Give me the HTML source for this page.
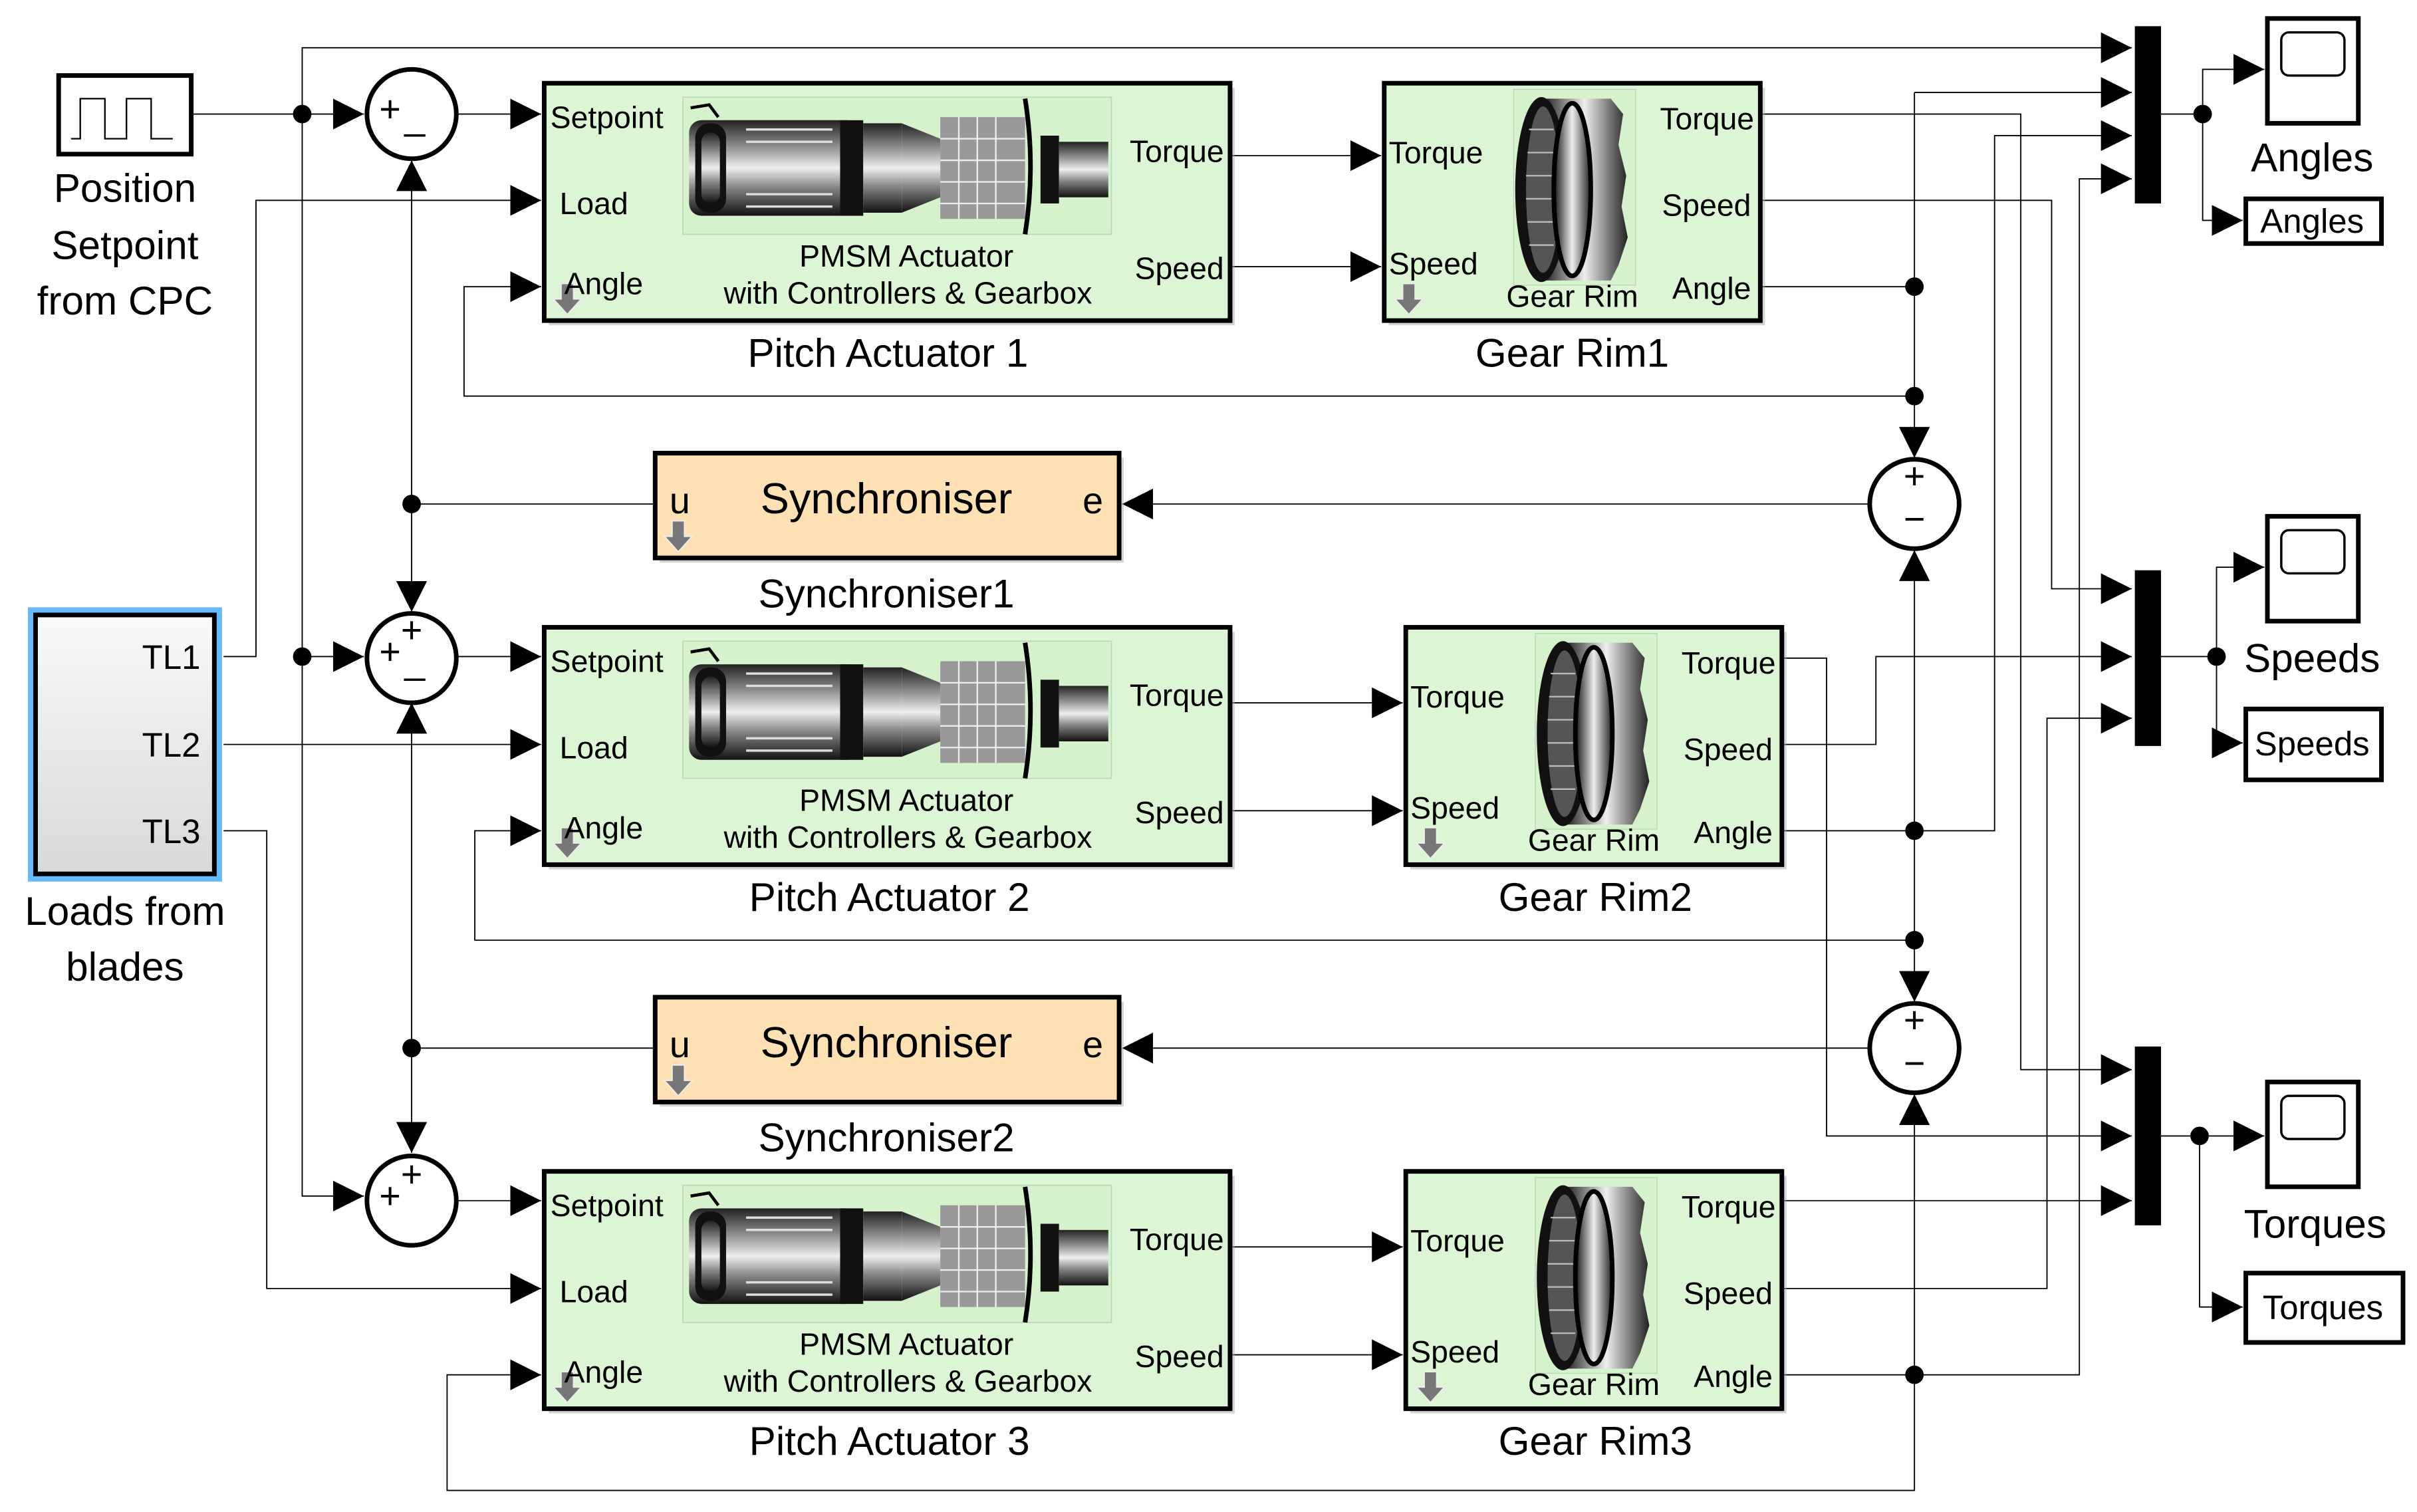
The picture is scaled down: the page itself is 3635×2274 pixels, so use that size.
<!DOCTYPE html>
<html><head><meta charset="utf-8"><style>
html,body{margin:0;padding:0;background:#fff}
svg{display:block}
text{font-family:"Liberation Sans",Arial,sans-serif;fill:#000}
</style></head><body>
<svg width="3635" height="2274" viewBox="0 0 1568 981" xmlns="http://www.w3.org/2000/svg">
<defs>
<linearGradient id="mg" x1="0" y1="0" x2="0" y2="1">
<stop offset="0" stop-color="#222"/><stop offset="0.3" stop-color="#999"/><stop offset="0.5" stop-color="#eee"/><stop offset="0.7" stop-color="#888"/><stop offset="1" stop-color="#111"/></linearGradient>
<linearGradient id="gg" x1="0" y1="0" x2="1" y2="0">
<stop offset="0" stop-color="#111"/><stop offset="0.5" stop-color="#eee"/><stop offset="1" stop-color="#222"/></linearGradient>
<linearGradient id="lg" x1="0" y1="0" x2="0" y2="1"><stop offset="0" stop-color="#fafafa"/><stop offset="1" stop-color="#d8d8d8"/></linearGradient>
<marker id="a" viewBox="0 0 10 10" refX="10" refY="5" markerWidth="20" markerHeight="20" markerUnits="userSpaceOnUse" orient="auto"><path d="M0,0L10,5L0,10z" fill="#000"/></marker>
<g id="motor">
<rect x="443" y="63" width="278" height="89" fill="#d6f2cc" stroke="#bcd6b4" stroke-width="0.7"/>
<rect x="447" y="78" width="110" height="62" rx="8" fill="url(#mg)"/>
<rect x="451" y="80" width="20" height="58" rx="9" fill="#111"/>
<rect x="455" y="86" width="12" height="46" rx="6" fill="url(#mg)"/>
<g stroke="#ddd" stroke-width="1.5"><line x1="484" y1="84" x2="540" y2="84"/><line x1="484" y1="92" x2="540" y2="92"/><line x1="484" y1="126" x2="540" y2="126"/><line x1="484" y1="134" x2="540" y2="134"/></g>
<rect x="545" y="78" width="15" height="62" fill="#111"/>
<rect x="560" y="80" width="25" height="58" fill="url(#mg)"/>
<path d="M585,80 L610,90 L610,128 L585,138z" fill="url(#mg)"/>
<rect x="610" y="76" width="55" height="66" fill="#999"/>
<g stroke="#eee" stroke-width="1"><line x1="622" y1="76" x2="622" y2="142"/><line x1="634" y1="76" x2="634" y2="142"/><line x1="646" y1="76" x2="646" y2="142"/><line x1="610" y1="90" x2="665" y2="90"/><line x1="610" y1="104" x2="665" y2="104"/><line x1="610" y1="118" x2="665" y2="118"/><line x1="610" y1="132" x2="665" y2="132"/></g>
<path d="M665,64 Q672,108 665,152" stroke="#000" stroke-width="3" fill="none"/>
<rect x="675" y="88" width="12" height="44" fill="#111"/>
<rect x="687" y="92" width="32" height="36" fill="url(#mg)"/>
<path d="M448,70 L460,68 L466,76" stroke="#000" stroke-width="2" fill="none"/>
</g>
<g id="darr"><path d="M-4,-10 h8 v10 h5 l-9,10 l-9,-10 h5z" fill="#777" stroke="#eee" stroke-width="0.8"/></g>
<g id="gear">
<rect x="-18" y="4" width="79" height="127" fill="#d6f2cc" stroke="#bcd6b4" stroke-width="0.6"/>
<path d="M0,10 L45,10 L53,20 L50,40 L55,60 L52,80 L56,100 L50,118 L45,128 L0,128z" fill="url(#gg)"/>
<ellipse cx="0" cy="69" rx="17" ry="60" fill="#111"/>
<ellipse cx="1" cy="69" rx="11" ry="54" fill="#555"/>
<g stroke="#bbb" stroke-width="1"><line x1="-8" y1="30" x2="8" y2="30"/><line x1="-9" y1="45" x2="9" y2="45"/><line x1="-10" y1="60" x2="10" y2="60"/><line x1="-10" y1="75" x2="10" y2="75"/><line x1="-9" y1="90" x2="9" y2="90"/><line x1="-8" y1="105" x2="8" y2="105"/></g>
<ellipse cx="20" cy="69" rx="12" ry="56" fill="url(#gg)" stroke="#000" stroke-width="3"/>
</g>
<g id="scr"><rect x="0" y="0" width="59" height="68" fill="#fff" stroke="#000" stroke-width="3"/><rect x="9" y="9" width="41" height="28" rx="5" fill="#fff" stroke="#000" stroke-width="1.5"/></g>
</defs>

<g stroke="#000" stroke-width="0.8" fill="none">
<path d="M125,74 H236" marker-end="url(#a)"/>
<path d="M196,74 V31 H1383" marker-end="url(#a)"/>
<path d="M196,74 V776 H236" marker-end="url(#a)"/>
<path d="M196,426 H236" marker-end="url(#a)"/>
<path d="M297,74 H351" marker-end="url(#a)"/>
<path d="M297,426 H351" marker-end="url(#a)"/>
<path d="M297,779 H351" marker-end="url(#a)"/>
<path d="M145,426 H166 V130 H351" marker-end="url(#a)"/>
<path d="M145,483 H351" marker-end="url(#a)"/>
<path d="M145,539 H173 V836 H351" marker-end="url(#a)"/>
<path d="M267,327 V104" marker-end="url(#a)"/>
<path d="M267,327 V397" marker-end="url(#a)"/>
<path d="M267,680 V456" marker-end="url(#a)"/>
<path d="M267,680 V748" marker-end="url(#a)"/>
<path d="M267,327 H425"/><path d="M267,680 H425"/>
<path d="M1213,327 H728" marker-end="url(#a)"/>
<path d="M1213,680 H728" marker-end="url(#a)"/>
<path d="M798,101 H896" marker-end="url(#a)"/>
<path d="M798,173 H896" marker-end="url(#a)"/>
<path d="M798,456 H910" marker-end="url(#a)"/>
<path d="M798,526 H910" marker-end="url(#a)"/>
<path d="M798,809 H910" marker-end="url(#a)"/>
<path d="M798,879 H910" marker-end="url(#a)"/>
<path d="M1142,186 H1242"/>
<path d="M1242,60 H1383" marker-end="url(#a)"/>
<path d="M1242,60 V297" marker-end="url(#a)"/>
<path d="M1242,257 H301 V186 H351" marker-end="url(#a)"/>
<path d="M1242,539 V357" marker-end="url(#a)"/>
<path d="M1157,539 H1294 V88 H1383" marker-end="url(#a)"/>
<path d="M1242,539 V650" marker-end="url(#a)"/>
<path d="M1242,610 H308 V539 H351" marker-end="url(#a)"/>
<path d="M1242,892 V710" marker-end="url(#a)"/>
<path d="M1242,892 V967 H290 V892 H351" marker-end="url(#a)"/>
<path d="M1157,892 H1349 V116 H1383" marker-end="url(#a)"/>
<path d="M1142,74 H1311 V694 H1383" marker-end="url(#a)"/>
<path d="M1142,130 H1331 V382 H1383" marker-end="url(#a)"/>
<path d="M1157,427 H1185 V737 H1383" marker-end="url(#a)"/>
<path d="M1157,483 H1217 V426 H1383" marker-end="url(#a)"/>
<path d="M1157,779 H1383" marker-end="url(#a)"/>
<path d="M1157,836 H1328 V466 H1383" marker-end="url(#a)"/>
<path d="M1402,74 H1429 V45 H1469" marker-end="url(#a)"/>
<path d="M1429,74 V143 H1455" marker-end="url(#a)"/>
<path d="M1402,426 H1438 V368 H1469" marker-end="url(#a)"/>
<path d="M1438,426 V482 H1455" marker-end="url(#a)"/>
<path d="M1402,737 H1469" marker-end="url(#a)"/>
<path d="M1427,737 V848 H1455" marker-end="url(#a)"/>
</g>
<g fill="#000">
<circle cx="196" cy="74" r="6"/><circle cx="196" cy="426" r="6"/>
<circle cx="267" cy="327" r="6"/><circle cx="267" cy="680" r="6"/>
<circle cx="1242" cy="186" r="6"/><circle cx="1242" cy="257" r="6"/>
<circle cx="1242" cy="539" r="6"/><circle cx="1242" cy="610" r="6"/><circle cx="1242" cy="892" r="6"/>
<circle cx="1429" cy="74" r="6"/><circle cx="1438" cy="426" r="6"/><circle cx="1427" cy="737" r="6"/>
<rect x="1385" y="17" width="17" height="115"/><rect x="1385" y="370" width="17" height="114"/><rect x="1385" y="679" width="17" height="116"/>
</g>

<rect x="38" y="49" width="86" height="51" fill="#fff" stroke="#000" stroke-width="3"/>
<path d="M46,90 H52 V64 H68 V90 H82 V64 H98 V90 H112" stroke="#000" stroke-width="1" fill="none"/>
<g font-size="26" text-anchor="middle"><text x="81" y="131">Position</text><text x="81" y="168">Setpoint</text><text x="81" y="204">from CPC</text></g>

<rect x="18" y="394" width="126" height="178" fill="#66bbff"/>
<rect x="23" y="399" width="116" height="168" fill="url(#lg)" stroke="#000" stroke-width="3"/>
<g font-size="22" text-anchor="end"><text x="130" y="434">TL1</text><text x="130" y="491">TL2</text><text x="130" y="547">TL3</text></g>
<g font-size="26" text-anchor="middle"><text x="81" y="600">Loads from</text><text x="81" y="636">blades</text></g>

<g fill="#fff" stroke="#000" stroke-width="3">
<circle cx="267" cy="74" r="29"/><circle cx="267" cy="427" r="29"/><circle cx="267" cy="779" r="29"/>
<circle cx="1242" cy="327" r="29"/><circle cx="1242" cy="680" r="29"/>
</g>
<g font-size="24" text-anchor="middle">
<text x="253" y="79">+</text><text x="269" y="84">_</text>
<text x="267" y="417">+</text><text x="253" y="431">+</text><text x="269" y="437">_</text>
<text x="267" y="770">+</text><text x="253" y="784">+</text>
<text x="1242" y="317">+</text><text x="1242" y="345">−</text>
<text x="1242" y="670">+</text><text x="1242" y="698">−</text>
</g>

<g id="act">
<rect x="356" y="57" width="445" height="154" fill="#aaa" opacity="0.5"/>
<rect x="353" y="54" width="445" height="154" fill="#dcf5d4" stroke="#000" stroke-width="3"/>
<use href="#motor"/>
<use href="#darr" x="368" y="194"/>
<g font-size="20"><text x="357" y="83">Setpoint</text><text x="363" y="139">Load</text><text x="366" y="191">Angle</text></g>
<g font-size="20" text-anchor="end"><text x="794" y="105">Torque</text><text x="794" y="181">Speed</text></g>
<g font-size="20" text-anchor="middle"><text x="588" y="173">PMSM Actuator</text><text x="589" y="197">with Controllers &amp; Gearbox</text></g>
</g>
<use href="#act" y="353"/><use href="#act" y="706"/>
<g font-size="26" text-anchor="middle"><text x="576" y="238">Pitch Actuator 1</text><text x="577" y="591">Pitch Actuator 2</text><text x="577" y="944">Pitch Actuator 3</text></g>

<g id="gr">
<rect x="901" y="57" width="244" height="154" fill="#aaa" opacity="0.5"/>
<rect x="898" y="54" width="244" height="154" fill="#dcf5d4" stroke="#000" stroke-width="3"/>
<use href="#gear" x="1000" y="54"/>
<use href="#darr" x="914" y="194"/>
<g font-size="20"><text x="901" y="106">Torque</text><text x="901" y="178">Speed</text></g>
<g font-size="20" text-anchor="end"><text x="1138" y="84">Torque</text><text x="1136" y="140">Speed</text><text x="1136" y="194">Angle</text></g>
<text x="1020" y="199" font-size="20" text-anchor="middle">Gear Rim</text>
</g>
<use href="#gr" x="14" y="353"/><use href="#gr" x="14" y="706"/>
<g font-size="26" text-anchor="middle"><text x="1020" y="238">Gear Rim1</text><text x="1035" y="591">Gear Rim2</text><text x="1035" y="944">Gear Rim3</text></g>

<g id="sy">
<rect x="428" y="297" width="301" height="68" fill="#aaa" opacity="0.5"/>
<rect x="425" y="294" width="301" height="68" fill="#fde0b4" stroke="#000" stroke-width="3"/>
<use href="#darr" x="440" y="348"/>
<text x="441" y="333" font-size="24" text-anchor="middle">u</text>
<text x="709" y="333" font-size="24" text-anchor="middle">e</text>
<text x="575" y="333" font-size="28" text-anchor="middle">Synchroniser</text>
</g>
<use href="#sy" y="353"/>
<g font-size="26" text-anchor="middle"><text x="575" y="394">Synchroniser1</text><text x="575" y="747">Synchroniser2</text></g>

<use href="#scr" x="1471" y="12"/><use href="#scr" x="1471" y="335"/><use href="#scr" x="1471" y="702"/>
<g font-size="26" text-anchor="middle"><text x="1500" y="111">Angles</text><text x="1500" y="436">Speeds</text><text x="1502" y="803">Torques</text></g>
<g fill="#fff" stroke="#000" stroke-width="3"><rect x="1457" y="129" width="88" height="29"/><rect x="1457" y="460" width="88" height="46"/><rect x="1457" y="826" width="102" height="45"/></g>
<g font-size="22" text-anchor="middle"><text x="1500" y="151">Angles</text><text x="1500" y="490">Speeds</text><text x="1507" y="856">Torques</text></g>
</svg>
</body></html>
